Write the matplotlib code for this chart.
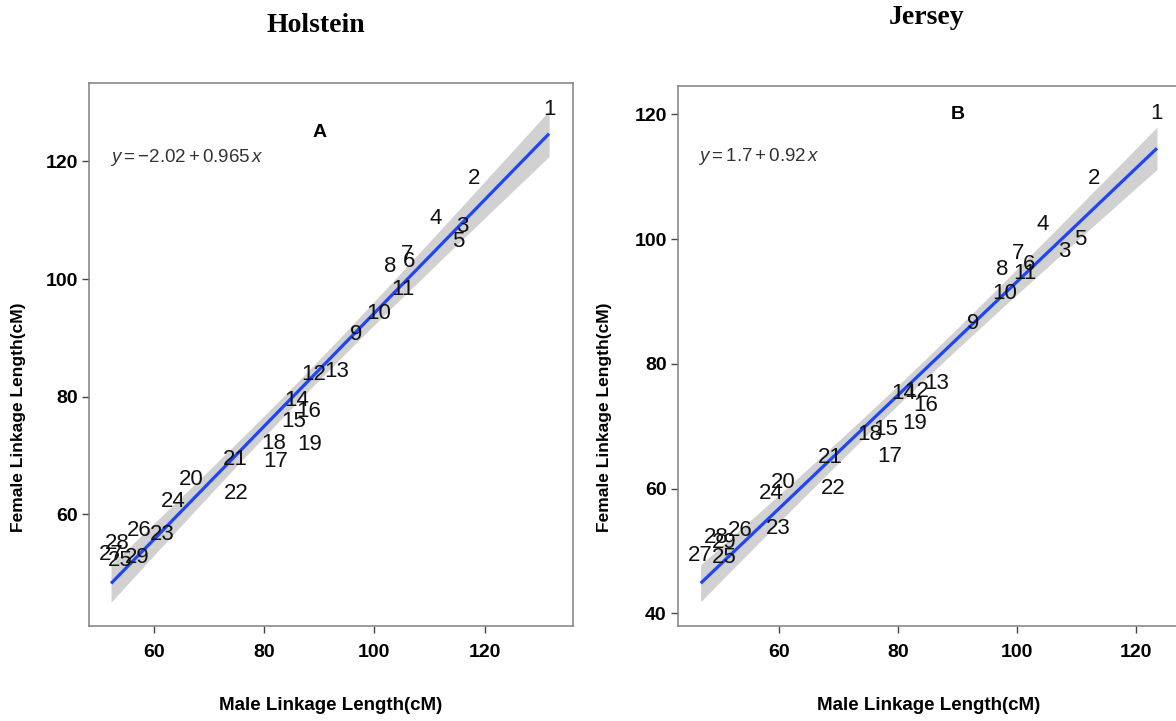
import numpy as np
import matplotlib
matplotlib.use("Agg")
import matplotlib.pyplot as plt
from matplotlib import font_manager

# ---------------- data ----------------
chromosomes = list(range(1, 30))

holstein_male = [131.7, 118.1, 116.0, 111.1, 115.2, 106.2, 106.0, 102.8, 96.7, 100.7,
                 105.2, 88.9, 93.2, 85.9, 85.3, 88.0, 82.0, 81.7, 88.2, 66.8,
                 74.7, 74.9, 61.5, 63.5, 53.8, 57.3, 52.2, 53.3, 56.9]
holstein_female = [128.8, 117.1, 108.9, 110.3, 106.4, 103.0, 104.1, 102.2, 90.5, 94.2,
                   98.3, 83.7, 84.3, 79.4, 75.7, 77.4, 68.9, 72.1, 71.8, 66.0,
                   69.4, 63.6, 56.6, 62.1, 52.1, 57.2, 53.1, 55.1, 52.7]

jersey_male = [123.5, 112.9, 108.0, 104.4, 110.6, 102.1, 100.2, 97.5, 92.7, 98.0,
               101.3, 83.2, 86.6, 80.9, 77.9, 84.6, 78.7, 75.3, 82.9, 60.8,
               68.6, 69.1, 59.9, 58.7, 50.8, 53.5, 46.9, 49.5, 50.8]
jersey_female = [120.2, 109.7, 98.0, 102.3, 99.9, 95.9, 97.7, 95.1, 86.5, 91.3,
                 94.5, 75.5, 76.9, 75.3, 69.4, 73.4, 65.1, 68.6, 70.5, 60.9,
                 65.0, 60.0, 53.6, 59.2, 48.9, 53.2, 49.2, 52.2, 51.3]

titles = ["Holstein", "Jersey"]
panel_tags = ["A", "B"]
equations = [r"$\mathit{y}\mathrm{=-2.02+0.965}\,\mathit{x}$",
             r"$\mathit{y}\mathrm{=1.7+0.92}\,\mathit{x}$"]
x_label = "Male Linkage Length(cM)"
y_label = "Female Linkage Length(cM)"
x_ticks = [60, 80, 100, 120]
y_ticks_list = [[60, 80, 100, 120], [40, 60, 80, 100, 120]]

# ---------------- fonts ----------------
names = {f.name for f in font_manager.fontManager.ttflist}
NARROW = "Liberation Sans Narrow" if "Liberation Sans Narrow" in names else "Liberation Sans"
FAM = [NARROW, "Liberation Sans", "DejaVu Sans"]
plt.rcParams["mathtext.fontset"] = "custom"
plt.rcParams["mathtext.rm"] = NARROW
plt.rcParams["mathtext.it"] = NARROW + ":italic"
plt.rcParams["mathtext.bf"] = NARROW + ":bold"

W, H = 1176, 721
fig = plt.figure(figsize=(W / 100, H / 100), dpi=100)

# axes boxes in pixel coords: left, right, top, bottom
boxes = [(89, 573, 83, 626), (677.8, 1179, 86, 625.7)]
xlims = [(48.2, 136.04), (43.06, 127.2)]
ylims = [(41.0, 133.35), (38.0, 124.57)]
tag_pos = [(90, 125), (90, 120)]
eq_pos = [(52.0, 120.6), (46.5, 113.2)]
title_pos = [(315.5, 25), (927, 18)]
ylabel_x_px = [19, 605]

T975 = 2.0518  # t quantile, df = 27

datasets = [(holstein_male, holstein_female), (jersey_male, jersey_female)]

for k, (xs, ys) in enumerate(datasets):
    l, r, t, b = boxes[k]
    ax = fig.add_axes([l / W, (H - b) / H, (r - l) / W, (b - t) / H])
    x = np.array(xs)
    y = np.array(ys)
    n = len(x)
    slope, intercept = np.polyfit(x, y, 1)
    xx = np.linspace(x.min(), x.max(), 200)
    yy = intercept + slope * xx
    resid = y - (intercept + slope * x)
    s = np.sqrt(np.sum(resid ** 2) / (n - 2))
    se = s * np.sqrt(1 / n + (xx - x.mean()) ** 2 / np.sum((x - x.mean()) ** 2))
    ax.fill_between(xx, yy - T975 * se, yy + T975 * se, color="#999999", alpha=0.45,
                    lw=0, zorder=1)
    ax.plot(xx, yy, color="#1F45FC", lw=2.3, zorder=2, solid_capstyle="butt")

    for c, xi, yi in zip(chromosomes, xs, ys):
        ax.text(xi, yi, str(c), ha="center", va="center", fontsize=16,
                family=FAM, color="#111111", zorder=3)

    ax.text(eq_pos[k][0], eq_pos[k][1], equations[k], ha="left", va="center",
            fontsize=13.5, color="#333333")
    ax.text(tag_pos[k][0], tag_pos[k][1], panel_tags[k], ha="center", va="center",
            fontsize=14, fontweight="bold", family=FAM, color="black")

    ax.set_xlim(*xlims[k])
    ax.set_ylim(*ylims[k])
    ax.set_xticks(x_ticks)
    ax.set_yticks(y_ticks_list[k])
    ax.tick_params(axis="both", direction="out", length=5, width=1, color="#444444")
    ax.tick_params(axis="x", pad=8)
    ax.tick_params(axis="y", pad=3)
    for lab in ax.get_xticklabels() + ax.get_yticklabels():
        lab.set_fontfamily(FAM)
        lab.set_fontweight("bold")
        lab.set_fontsize(14)
        lab.set_color("black")
    for sp in ax.spines.values():
        sp.set_color("#808080")
        sp.set_linewidth(1.1)

    ax.set_xlabel(x_label, fontsize=13.5, fontweight="bold", family=FAM, va="center")
    ax.xaxis.set_label_coords(0.5, -(705 - b) / (b - t))
    ax.set_ylabel(y_label, fontsize=12.5, fontweight="bold",
                  family=["Liberation Sans", "DejaVu Sans"], va="center")
    ax.yaxis.set_label_coords((ylabel_x_px[k] - l) / (r - l), (b - 417) / (b - t))

    fig.text(title_pos[k][0] / W, 1 - title_pos[k][1] / H, titles[k], ha="center",
             va="center", fontsize=20, fontweight="bold",
             family=["Liberation Serif", "DejaVu Serif"])

fig.savefig("out.png", dpi=100)
